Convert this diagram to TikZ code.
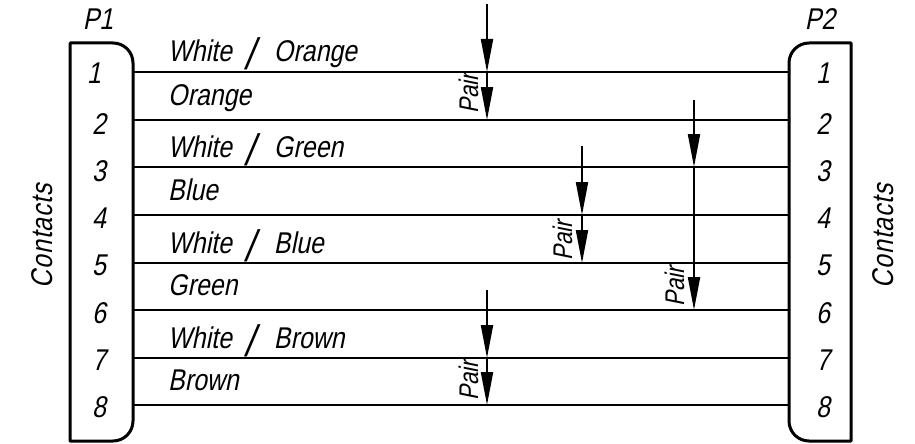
\documentclass[tikz,border=0pt]{standalone}
\usepackage{fontspec}
\usetikzlibrary{arrows.meta}
\newfontfamily\cadfont[FakeStretch=0.83,FakeSlant=0.2]{Liberation Sans}
\newfontfamily\cadspaced[FakeStretch=0.83,FakeSlant=0.2,LetterSpace=3]{Liberation Sans}
\newcommand{\bigslash}{\hspace{13pt}\raisebox{-8pt}{\fontsize{44}{44}\selectfont /}\hspace{19pt}}
\tikzset{
  x=1pt,y=-1pt,
  conn/.style={line width=3pt,line join=round},
  wire/.style={line width=2pt},
  pairarrow/.style={line width=2pt,-{Triangle[length=33pt,width=12pt]}},
  lab/.style={anchor=base west,inner sep=0pt,font=\cadfont\fontsize{30}{30}\selectfont},
  num/.style={anchor=base,inner sep=0pt,font=\cadfont\fontsize{30}{30}\selectfont},
  side/.style={anchor=base,inner sep=0pt,rotate=90,font=\cadspaced\fontsize{30}{30}\selectfont},
  pairlab/.style={anchor=base,inner sep=0pt,rotate=90,font=\cadfont\fontsize{27}{27}\selectfont},
}
\begin{document}
\begin{tikzpicture}
\useasboundingbox (0,0) rectangle (915,444);
% connectors
\draw[conn] (133,63) arc[start angle=0,end angle=90,x radius=20pt,y radius=20pt] -- (70,43) -- (70,441) -- (113,441) arc[start angle=-90,end angle=0,x radius=20pt,y radius=20pt] -- cycle;
\draw[conn] (789,63) arc[start angle=180,end angle=90,x radius=20pt,y radius=20pt] -- (851,43) -- (851,441) -- (809,441) arc[start angle=270,end angle=180,x radius=20pt,y radius=20pt] -- cycle;
\node[num] (p1) at (98,30) {P1};
\node[num] (p2) at (820,30) {P2};
\node[side] (cl) at (52,236) {Contacts};
\node[side] (cr) at (893,236) {Contacts};
% contact ends and wires
\foreach \i/\y in {1/72,2/120,3/167,4/215,5/263,6/310,7/358,8/405}{
  \coordinate (a\i) at (133,\y);
  \coordinate (b\i) at (789,\y);
  \draw[wire] (a\i) -- (b\i);
}
\foreach \i/\xa/\ya in {1/94/83,2/99/134,3/99/181,4/99/228,5/99/275,6/99/323,7/99/370,8/99/417}{
  \node[num] (na\i) at (\xa,\ya) {\i};
}
\foreach \i/\ya in {1/83,2/134,3/181,4/228,5/275,6/323,7/370,8/417}{
  \node[num] (nb\i) at (823,\ya) {\i};
}
% labels
\node[lab] (w1) at (168,62) {White\bigslash Orange};
\node[lab] (w2) at (168,105) {Orange};
\node[lab] (w3) at (168,157) {White\bigslash Green};
\node[lab] (w4) at (168,200) {Blue};
\node[lab] (w5) at (168,253) {White\bigslash Blue};
\node[lab] (w6) at (168,295) {Green};
\node[lab] (w7) at (168,348) {White\bigslash Brown};
\node[lab] (w8) at (168,390) {Brown};
% pair arrows
\coordinate (s1) at (487,4);   \coordinate (m1) at (487,72);  \coordinate (e1) at (487,120);
\coordinate (s2) at (582,146); \coordinate (m2) at (582,215); \coordinate (e2) at (582,263);
\coordinate (s3) at (694,100); \coordinate (m3) at (694,167); \coordinate (e3) at (694,310);
\coordinate (s4) at (487,290); \coordinate (m4) at (487,358); \coordinate (e4) at (487,405);
\foreach \i in {1,2,3,4}{
  \draw[pairarrow] (s\i) -- (m\i);
  \draw[pairarrow] (m\i) -- (e\i);
}
\node[pairlab] (pa1) at (478,94) {Pair};
\node[pairlab] (pa2) at (572,241) {Pair};
\node[pairlab] (pa3) at (684,287) {Pair};
\node[pairlab] (pa4) at (478,381) {Pair};
\end{tikzpicture}
\end{document}
